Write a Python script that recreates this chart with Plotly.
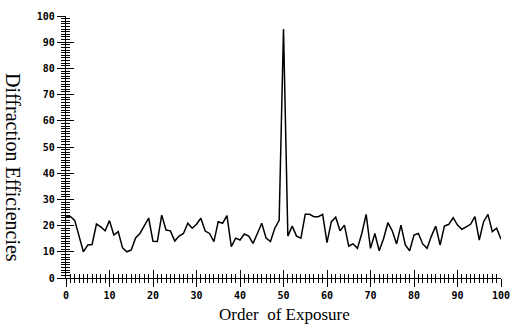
import plotly.graph_objects as go

orders = list(range(0, 101))
efficiencies = [
    23.7, 23.5, 22.0, 16.0, 10.0, 12.6, 12.8, 20.6, 19.5, 18.0,
    21.9, 16.4, 17.7, 11.5, 10.0, 10.7, 15.3, 17.0, 20.0, 22.9,
    14.0, 13.9, 24.0, 18.3, 18.0, 14.1, 16.0, 17.0, 20.9, 19.0,
    20.5, 22.8, 17.9, 17.0, 13.9, 21.5, 20.9, 23.8, 12.0, 15.2,
    14.5, 16.8, 16.0, 13.2, 17.0, 20.9, 15.2, 13.9, 19.0, 22.0,
    95.0, 16.0, 19.8, 16.0, 15.2, 24.3, 24.3, 23.4, 23.4, 24.3,
    13.5, 21.5, 23.2, 18.0, 20.2, 12.2, 13.0, 11.3, 17.0, 24.3,
    11.3, 17.0, 10.4, 15.0, 21.1, 18.0, 13.0, 20.2, 12.6, 10.4,
    16.4, 17.0, 13.0, 11.3, 16.0, 19.8, 12.6, 19.8, 20.5, 23.0,
    20.2, 18.6, 19.5, 20.5, 23.4, 14.5, 21.5, 24.3, 17.7, 19.0,
    14.8,
]
tick_vals = [0, 10, 20, 30, 40, 50, 60, 70, 80, 90, 100]
tick_text = [str(v) for v in tick_vals]

fig = go.Figure()
# invisible copy on the overlay axes so their (inside) ticks are drawn
fig.add_trace(go.Scatter(x=orders, y=efficiencies, mode="lines", xaxis="x2", yaxis="y2",
                         line=dict(color="rgba(0,0,0,0)", width=1), hoverinfo="skip",
                         showlegend=False))
fig.add_trace(go.Scatter(x=orders, y=efficiencies, mode="lines",
                         line=dict(color="black", width=1.5), showlegend=False))

tickfont = dict(family="DejaVu Sans Mono", size=10, color="black", weight="bold")

common = dict(range=[0, 100], tickvals=tick_vals, ticktext=tick_text,
              showgrid=False, zeroline=False, showline=True, linecolor="black",
              linewidth=1.2, tickcolor="black", tickwidth=1.2, automargin=False)

fig.update_layout(
    width=514, height=325,
    margin=dict(l=66, r=13, t=16, b=47),
    paper_bgcolor="white", plot_bgcolor="rgba(0,0,0,0)",
    xaxis=dict(**common, ticks="outside", ticklen=8, tickfont=tickfont,
               minor=dict(ticks="outside", dtick=1, ticklen=4, tickcolor="black", tickwidth=1),
               anchor="y", ticklabelstandoff=0),
    yaxis=dict(**common, ticks="outside", ticklen=8, tickfont=tickfont,
               minor=dict(ticks="outside", dtick=1, ticklen=4, tickcolor="black", tickwidth=1),
               anchor="x", ticklabelstandoff=0),
    xaxis2=dict(**common, ticks="inside", ticklen=8, showticklabels=False,
                minor=dict(ticks="inside", dtick=1, ticklen=4, tickcolor="black", tickwidth=1),
                overlaying="x", anchor="y", side="bottom"),
    yaxis2=dict(**common, ticks="inside", ticklen=8, showticklabels=False,
                minor=dict(ticks="inside", dtick=1, ticklen=4, tickcolor="black", tickwidth=1),
                overlaying="y", anchor="x", side="left"),
    annotations=[
        dict(text="Diffraction Efficiencies", textangle=90, xref="paper", yref="paper",
             x=-0.122, y=0.42, xanchor="center", yanchor="middle", showarrow=False,
             font=dict(family="Liberation Serif", size=20, color="black")),
        dict(text="Order  of Exposure", xref="paper", yref="paper",
             x=0.503, y=-0.14, xanchor="center", yanchor="middle", showarrow=False,
             font=dict(family="Liberation Serif", size=17, color="black")),
    ],
)

fig.write_html("out.html", config={"displayModeBar": False},
               post_script="document.body.style.margin='0';")
